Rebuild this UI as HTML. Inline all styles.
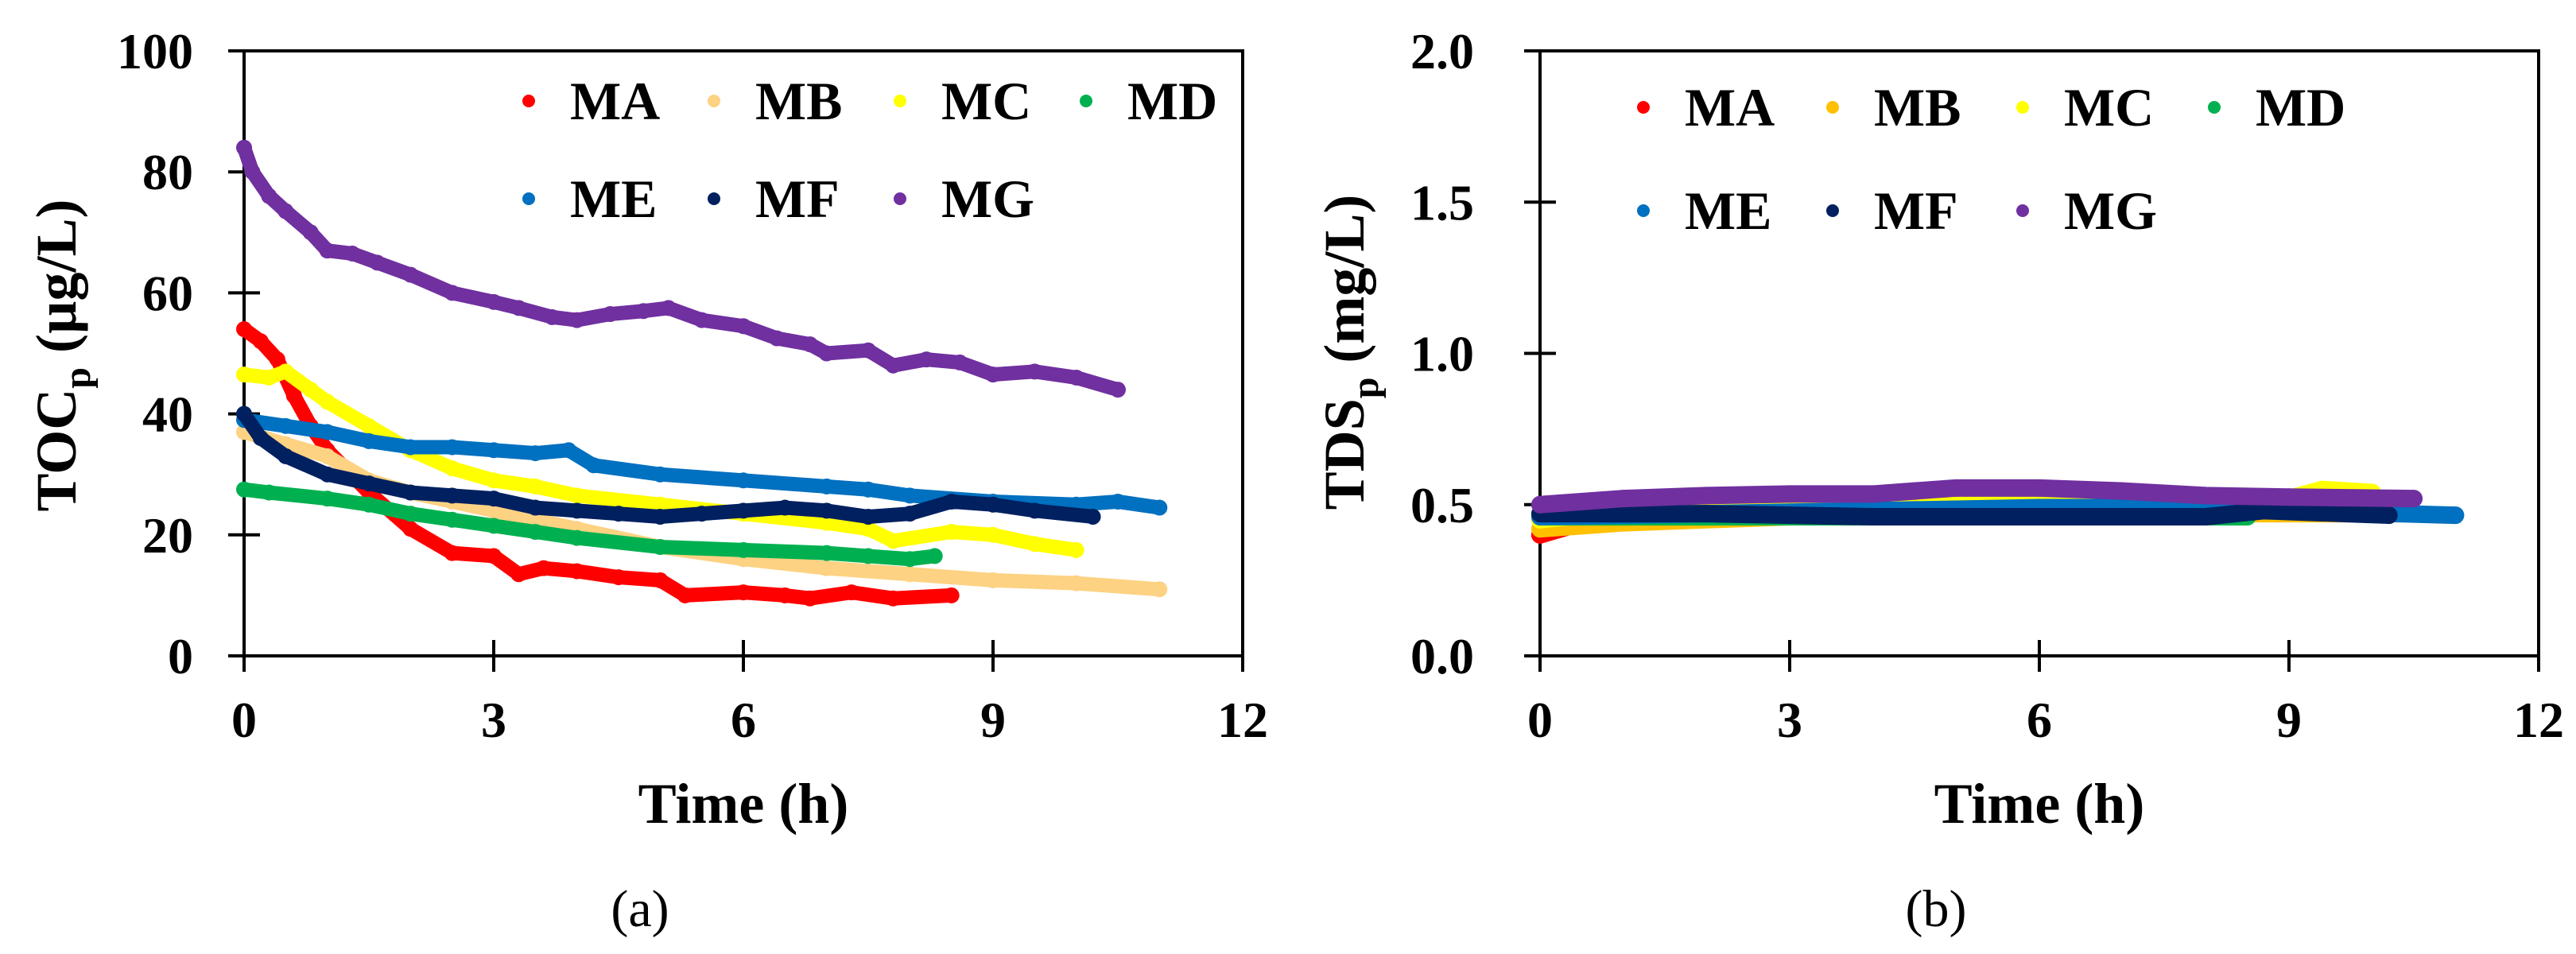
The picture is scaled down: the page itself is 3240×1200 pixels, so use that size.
<!DOCTYPE html>
<html><head><meta charset="utf-8"><style>
html,body{margin:0;padding:0;background:#fff;}
svg{display:block;}
svg text{font-family:"Liberation Serif","Times New Roman",serif;}
</style></head><body>
<svg id="fig" width="3240" height="1200" viewBox="0 0 3240 1200" font-family="Liberation Serif, serif"></svg>
<script>
// ---- Data: panel (a) TOCp (µg/L) ----
const seriesNames = ["MA","MB","MC","MD","ME","MF","MG"];
const tocMA_t = [0,0.2,0.4,0.6,0.8,1,1.5,2,2.5,3,3.3,3.6,4,4.5,5,5.3,6,6.5,6.8,7.3,7.8,8.5];
const tocMA_v = [54,52,49,43,38,34,27,21,17,16.5,13.5,14.5,14,13,12.5,10,10.5,10,9.5,10.5,9.5,10];
const tocMB_t = [0,0.5,1,1.5,2,2.5,3,3.5,4,5,6,7,8,9,10,11];
const tocMB_v = [37,35,33,29,27,25.5,24,22.5,21,18,16,14.5,13.5,12.5,12,11];
const tocMC_t = [0,0.3,0.5,0.8,1,1.5,2,2.5,3,3.5,4,5,6,7,7.5,7.8,8.5,9,9.5,10];
const tocMC_v = [46.5,46,47,44,42,38,34,31,29,28,26.5,25,23.5,22,21,19,20.5,20,18.5,17.5];
const tocMD_t = [0,0.3,1,1.5,2,2.5,3,3.5,4,5,6,7,7.5,8,8.3];
const tocMD_v = [27.5,27,26,25,23.5,22.5,21.5,20.5,19.5,18,17.5,17,16.5,16,16.5];
const tocME_t = [0,0.5,1,1.5,2,2.5,3,3.5,3.9,4.2,5,6,7,7.5,8,9,10,10.5,11];
const tocME_v = [39,38,37,35.5,34.5,34.5,34,33.5,34,31.5,30,29,28,27.5,26.5,25.5,25,25.5,24.5];
const tocMF_t = [0,0.2,0.5,1,1.5,2,2.5,3,3.5,4,4.5,5,5.5,6,6.5,7,7.5,8,8.5,9,9.5,10.2];
const tocMF_v = [40,36,33,30,28.5,27,26.5,26,24.5,24,23.5,23,23.5,24,24.5,24,23,23.5,25.5,25,24,23];
const tocMG_t = [0,0.1,0.3,0.5,0.8,1,1.3,1.6,2,2.5,3,3.3,3.7,4,4.4,4.8,5.1,5.5,6,6.4,6.8,7,7.5,7.8,8.2,8.6,9,9.5,10,10.5];
const tocMG_v = [84,80,76,73.5,70,67,66.5,65,63,60,58.5,57.5,56,55.5,56.5,57,57.5,55.5,54.5,52.5,51.5,50,50.5,48,49,48.5,46.5,47,46,44];
// ---- Data: panel (b) TDSp (mg/L) ----
const tdsMA_t = [0,0.5,2.6,4];
const tdsMA_v = [0.40,0.44,0.46,0.47];
const tdsMB_t = [0,1,3,6,9,10.5];
const tdsMB_v = [0.42,0.44,0.46,0.47,0.47,0.47];
const tdsMC_t = [0,1,3,5,6,7,9,9.4,10];
const tdsMC_v = [0.45,0.48,0.50,0.53,0.52,0.51,0.52,0.55,0.54];
const tdsMD_t = [0,4,8,8.5];
const tdsMD_v = [0.46,0.46,0.46,0.46];
const tdsME_t = [0,2,4,6,8,9,11];
const tdsME_v = [0.46,0.47,0.48,0.49,0.49,0.48,0.465];
const tdsMF_t = [0,2,4,6,8,8.7,10.2];
const tdsMF_v = [0.47,0.47,0.46,0.46,0.46,0.48,0.465];
const tdsMG_t = [0,1,2,3,4,4.5,5,6,7,8,9,10.5];
const tdsMG_v = [0.50,0.52,0.53,0.535,0.535,0.545,0.555,0.555,0.545,0.53,0.525,0.52];
// ---- Ticks ----
const xTicks = [0,3,6,9,12];
const tocTicks = [0,20,40,60,80,100];
const tdsTicks = [0,0.5,1.0,1.5,2.0];
const tdsTickLabels = ["0.0","0.5","1.0","1.5","2.0"];

const colorsA = ["#ff0000","#fdd282","#ffff00","#00b050","#0070c0","#002060","#7030a0"];
const colorsB = ["#ff0000","#ffc000","#ffff00","#00b050","#0070c0","#002060","#7030a0"];

const NS="http://www.w3.org/2000/svg";
const svg=document.getElementById('fig');
const FF='Liberation Serif, Times New Roman, serif';
function mk(tag,attrs,parent){const e=document.createElementNS(NS,tag);for(const k in attrs)e.setAttribute(k,attrs[k]);if(tag==='text')e.setAttribute('font-family',FF);(parent||svg).appendChild(e);return e;}

function panel(opt){
  const g=mk('g',{});
  
  
  const X=t=>opt.x0+(t/12)*(opt.x1-opt.x0);
  const Y=v=>opt.y0-(v/opt.ymax)*(opt.y0-opt.y1);
  const fr=mk('rect',{x:opt.x0,y:opt.y1,width:opt.x1-opt.x0,height:opt.y0-opt.y1,fill:'none',stroke:'#000','stroke-width':4},g);
  
  
  opt.yTicks.forEach((v,i)=>{
    const y=Y(v);
    const tk=mk('line',{x1:opt.x0-20,x2:opt.x0+20,y1:y,y2:y,stroke:'#000','stroke-width':4},g);
    
    
    const tl=mk('text',{x:opt.ylabX,y:y+22,'text-anchor':'end','font-size':64,'font-weight':'bold'},g);
    tl.textContent=opt.yLabels[i];
    
    
  });
  xTicks.forEach(t=>{
    const x=X(t);
    const tk=mk('line',{x1:x,x2:x,y1:opt.y0-20,y2:opt.y0+20,stroke:'#000','stroke-width':4},g);
    
    
    const tl=mk('text',{x:x,y:927,'text-anchor':'middle','font-size':64,'font-weight':'bold'},g);
    tl.textContent=String(t);
    
    
  });
  const xt=mk('text',{x:(opt.x0+opt.x1)/2,y:1035,'text-anchor':'middle','font-size':72,'font-weight':'bold'},g);
  xt.textContent='Time (h)';
  
  
  const yt=mk('text',{x:0,y:0,'text-anchor':'middle','font-size':72,'font-weight':'bold',transform:`translate(${opt.ytX},${opt.ytY}) rotate(-90)`},g);
  yt.innerHTML=opt.ytitle;
  
  
  const cap=mk('text',{x:(opt.x0+opt.x1)/2-130,y:1165,'text-anchor':'middle','font-size':66},g);
  cap.textContent=opt.caption;
  
  
  opt.series.forEach((s,i)=>{
    const sg=mk('g',{},g);
    
    
    const pts=s[0].map((t,j)=>X(t)+','+Y(s[1][j])).join(' ');
    mk('polyline',{points:pts,fill:'none',stroke:opt.colors[i],'stroke-width':opt.lw,'stroke-linecap':'round','stroke-linejoin':'round'},sg);
    s[0].forEach((t,j)=>{
      const c=mk('circle',{cx:X(t),cy:Y(s[1][j]),r:opt.r,fill:opt.colors[i]},sg);
      
      
    });
  });
  seriesNames.forEach((n,i)=>{
    const row=i<4?0:1,col=i%4;
    const lg=mk('g',{},g);
    
    
    mk('circle',{cx:opt.legX[col],cy:opt.legY[row],r:8,fill:opt.colors[i]},lg);
    const lt=mk('text',{x:opt.legX[col]+52,y:opt.legY[row]+23,'font-size':68,'font-weight':'bold'},lg);
    lt.textContent=n;
  });
}

panel({name:'panel-a-toc',x0:307,x1:1563,y0:825,y1:64,ymax:100,yTicks:tocTicks,yLabels:tocTicks.map(String),ylabX:243,
  ytX:95,ytY:447,ytitle:'TOC<tspan font-size="48" dy="18">p</tspan><tspan dy="-18"> (µg/L)</tspan>',caption:'(a)',
  colors:colorsA,lw:18,r:10,legX:[665,898,1132,1366],legY:[127,250],
  series:[[tocMA_t,tocMA_v],[tocMB_t,tocMB_v],[tocMC_t,tocMC_v],[tocMD_t,tocMD_v],[tocME_t,tocME_v],[tocMF_t,tocMF_v],[tocMG_t,tocMG_v]]});
panel({name:'panel-b-tds',x0:1937,x1:3193,y0:825,y1:64,ymax:2,yTicks:tdsTicks,yLabels:tdsTickLabels,ylabX:1854,
  ytX:1715,ytY:443,ytitle:'TDS<tspan font-size="48" dy="18">p</tspan><tspan dy="-18"> (mg/L)</tspan>',caption:'(b)',
  colors:colorsB,lw:22,r:11,legX:[2067,2305,2544,2785],legY:[135,265],
  series:[[tdsMA_t,tdsMA_v],[tdsMB_t,tdsMB_v],[tdsMC_t,tdsMC_v],[tdsMD_t,tdsMD_v],[tdsME_t,tdsME_v],[tdsMF_t,tdsMF_v],[tdsMG_t,tdsMG_v]]});
</script>
</body></html>
